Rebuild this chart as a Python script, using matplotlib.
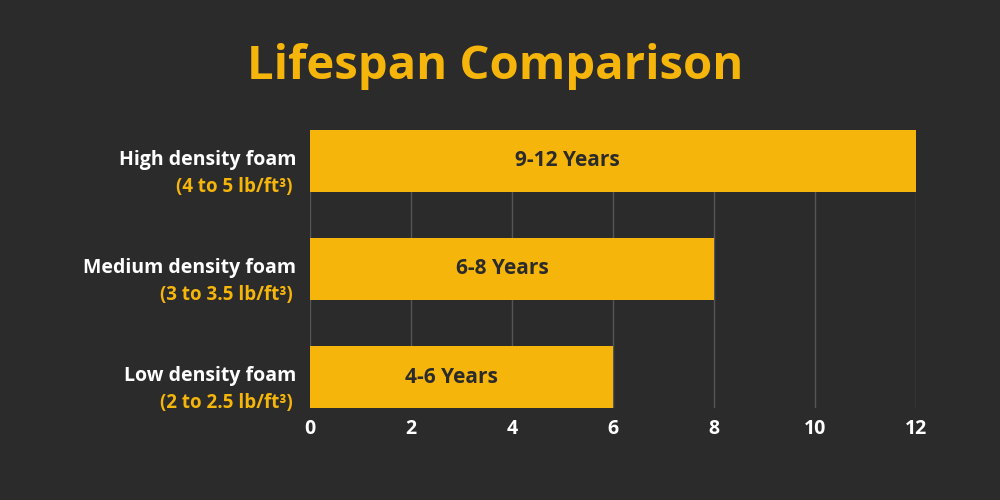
import matplotlib
matplotlib.use("Agg")
import matplotlib.pyplot as plt

categories = ["Low density foam", "Medium density foam", "High density foam"]
densities = ["(2 to 2.5 lb/ft³)", "(3 to 3.5 lb/ft³)", "(4 to 5 lb/ft³)"]
values = [6, 8, 12]
bar_labels = ["4-6 Years", "6-8 Years", "9-12 Years"]
ticks = [0, 2, 4, 6, 8, 10, 12]

bg = "#2b2b2b"
yellow = "#f5b50a"
plt.rcParams["font.family"] = "Open Sans"

fig = plt.figure(figsize=(10, 5), dpi=100, facecolor=bg)
ax = fig.add_axes([0.31, 0.184, 0.606, 0.556], facecolor=bg)
pos = list(range(len(categories)))
h = 0.574
ax.barh(pos, values, height=h, color=yellow, zorder=3)
for p, v, t in zip(pos, values, bar_labels):
    ax.text(v / 2 - 0.2 if v < 12 else 5.1, p, t, ha="center", va="center", fontsize=15,
            fontweight="bold", color="#2b2b2b", zorder=4)
for p, c, d in zip(pos, categories, densities):
    ax.text(-0.27, p + 0.01, c, ha="right", va="center",
            fontsize=14, fontweight="bold", color="white")
    ax.text(-0.35, p - 0.24, d, ha="right", va="center",
            fontsize=13.5, fontweight="bold", color=yellow)
ax.set_xlim(0, 12)
ax.set_ylim(-h / 2, 2 + h / 2)
ax.set_xticks(ticks)
ax.set_xticklabels([str(t) for t in ticks], fontsize=14, fontweight="bold", color="white")
ax.tick_params(axis="x", length=0, pad=8)
ax.set_yticks([])
ax.grid(axis="x", color="#555555", linewidth=1, zorder=0)
for s in ax.spines.values():
    s.set_visible(False)
fig.text(0.495, 0.868, "Lifespan Comparison", ha="center", va="center",
         fontsize=34, fontweight="bold", color=yellow)
fig.savefig("out.png", facecolor=bg)
